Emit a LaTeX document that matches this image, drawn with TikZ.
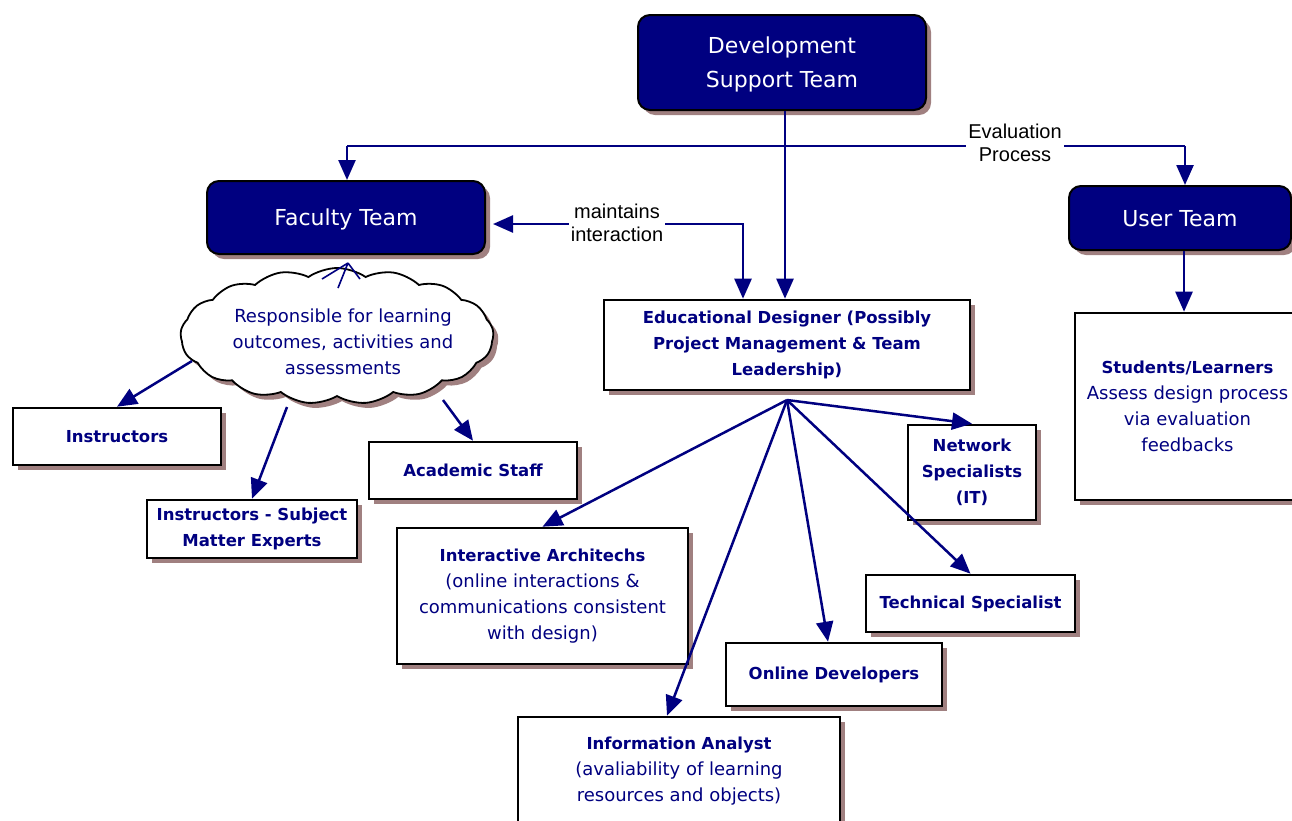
\documentclass[tikz,border=0pt]{standalone}
\usepackage{fontspec}
\setmainfont{DejaVu Sans}
\newfontfamily\labelfont{Liberation Sans}
\usetikzlibrary{arrows.meta,shapes.symbols,shadows}
\definecolor{navy}{RGB}{0,0,128}
\definecolor{shadowc}{RGB}{160,128,128}
\newcommand{\boxhead}[1]{{\fontsize{16.5}{26}\selectfont\bfseries #1}}

\begin{document}
\begin{tikzpicture}[x=1pt,y=-1pt,
  shadowed/.style={drop shadow={shadow xshift=5pt,shadow yshift=-5pt,fill=shadowc,opacity=1}},
  team/.style={shadowed, draw=black, line width=2pt, fill=navy, rounded corners=12pt,
    text=white, font=\fontsize{22}{34}\selectfont, align=center, inner sep=0pt, text depth=0pt},
  role/.style={shadowed, draw=black, line width=2.6pt, fill=white, text=navy,
    font=\fontsize{18}{26}\selectfont, align=center, inner sep=0pt},
  rolebold/.style={role, font=\fontsize{16.5}{26}\selectfont\bfseries},
  lbl/.style={fill=white, text=black, font=\labelfont\fontsize{20}{23}\selectfont,
    align=center, inner sep=2pt},
  conn/.style={draw=navy, line width=2.5pt},
  arr/.style={conn, -{Triangle[length=20pt,width=17pt]}},
  biarr/.style={conn, {Triangle[length=20pt,width=17pt]}-{Triangle[length=20pt,width=17pt]}},
]
\useasboundingbox (0,0) rectangle (1292,820);
\clip (0,0) rectangle (1292,820);
\fill[white] (0,0) rectangle (1292,820);

% teams
\node[team, minimum width=288pt, minimum height=95pt] (dst) at (782,62.5) {Development\\Support Team};
\node[team, minimum width=278pt, minimum height=73pt] (fac) at (346,217.5) {Faculty Team};
\node[team, minimum width=222pt, minimum height=64pt] (usr) at (1180,218) {User Team};

% design team roles
\node[rolebold, minimum width=366pt, minimum height=90pt] (ed) at (787,345)
  {Educational Designer (Possibly\\Project Management \& Team\\Leadership)};
\node[rolebold, minimum width=128pt, minimum height=95pt] (net) at (972,472.5) {Network\\Specialists\\(IT)};
\node[rolebold, minimum width=209pt, minimum height=57pt] (tech) at (970.5,603.5) {Technical Specialist};
\node[rolebold, minimum width=216pt, minimum height=63pt] (onl) at (834,674.5) {Online Developers};
\node[role, minimum width=291pt, minimum height=136pt] (ia) at (542.5,596)
  {\boxhead{Interactive Architechs}\\(online interactions \&\\communications consistent\\with design)};
\node[role, minimum width=322pt, minimum height=109pt] (info) at (679,771.5)
  {\boxhead{Information Analyst}\\(avaliability of learning\\resources and objects)};

% faculty side
\node[cloud, cloud puffs=17, cloud puff arc=70, aspect=2.3, draw=black, line width=1.8pt, fill=white, shadowed,
  minimum width=313pt, minimum height=136pt, inner sep=0pt] (cld) at (337,336) {};
\node[text=navy, font=\fontsize{18}{26}\selectfont, align=center] (cldtext) at (343,342)
  {Responsible for learning\\outcomes, activities and\\assessments};
\node[rolebold, minimum width=208pt, minimum height=57pt] (ins) at (117,436.5) {Instructors};
\node[rolebold, minimum width=210pt, minimum height=58pt] (isme) at (252,529) {Instructors - Subject\\Matter Experts};
\node[rolebold, minimum width=208pt, minimum height=57pt] (acad) at (473,470.5) {Academic Staff};

% user side
\node[role, minimum width=225pt, minimum height=187pt] (stu) at (1187.5,406.5)
  {\boxhead{Students/Learners}\\Assess design process\\via evaluation\\feedbacks};

% connector points
\coordinate (x785) at (785,0);
\coordinate (x1184) at (1184,0);
\coordinate (evL) at (347,146);
\coordinate (evR) at (1185,146);
\coordinate (miC) at (743,224);
\coordinate (hub) at (787,400);
\coordinate (fanTop) at (348,263);
\coordinate (fan1) at (322,279);
\coordinate (fan2) at (338,288);
\coordinate (fan3) at (360,279);
\coordinate (c1) at (192,361);
\coordinate (c2) at (287,407);
\coordinate (c3) at (443,400);

% connectors
\draw[arr] (dst.south -| x785) -- (ed.north -| x785);
\draw[conn] (evL) -- (evR);
\draw[arr] (evL) -- (fac.north -| evL);
\draw[arr] (evR) -- (usr.north -| evR);
\draw[biarr] ([xshift=7pt]fac.east |- miC) -- (miC) -- (ed.north -| miC);
\draw[arr] (usr.south -| x1184) -- (stu.north -| x1184);

\draw[conn, line width=1.6pt] (fanTop) -- (fan1) (fanTop) -- (fan2) (fanTop) -- (fan3);
\draw[arr] (c1) -- (ins.north);
\draw[arr] (c2) -- (isme.north);
\draw[arr] (c3) -- (acad.north);

\draw[arr] (hub) -- (net.north);
\draw[arr] (hub) -- (tech.north);
\draw[arr] (hub) -- ([xshift=-6pt]onl.north);
\draw[arr] (hub) -- (ia.north);
\draw[arr] (hub) -- ([xshift=-12pt]info.north);

% connector labels
\node[lbl] (evlab) at (1015,143) {Evaluation\\Process};
\node[lbl] (milab) at (617,223) {maintains\\interaction};
\end{tikzpicture}
\end{document}
